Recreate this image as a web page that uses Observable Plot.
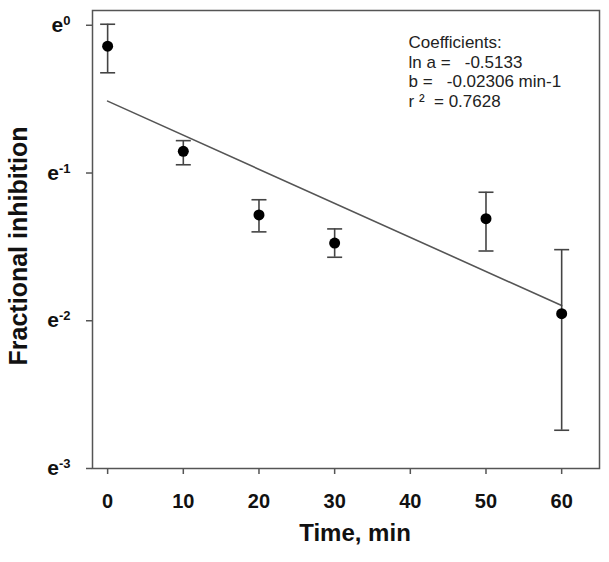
<!DOCTYPE html>
<html>
<head>
<meta charset="utf-8">
<script src="https://cdn.jsdelivr.net/npm/d3@7"></script>
<script src="https://cdn.jsdelivr.net/npm/@observablehq/plot@0.6"></script>
<style>
  html, body { margin: 0; padding: 0; background: #fff; }
  svg text { white-space: pre; }
</style>
</head>
<body>
<div id="chart"></div>
<script>
// Data
const times = [0, 10, 20, 30, 50, 60];
const meanValues = [0.868, 0.426, 0.277, 0.229, 0.270, 0.142];
const upperValues = [1.007, 0.458, 0.307, 0.252, 0.323, 0.219];
const lowerValues = [0.725, 0.389, 0.247, 0.208, 0.217, 0.0645];
const fitTimes = [0, 60];
const fitValues = [0.5985, 0.1500];
const xTicks = [0, 10, 20, 30, 40, 50, 60];
const yTickExponents = [-3, -2, -1, 0];
const coefficientLines = [
  "Coefficients:",
  "ln a =   -0.5133",
  "b =   -0.02306 min-1",
  "r \u00B2  = 0.7628"
];
const xLabel = "Time, min";
const yLabel = "Fractional inhibition";

const points = times.map((t, i) => ({t, m: meanValues[i], hi: upperValues[i], lo: lowerValues[i]}));
const fit = fitTimes.map((t, i) => ({t, v: fitValues[i]}));
const yTicks = yTickExponents.map(k => Math.exp(k));

const font = "Arial, 'Liberation Sans', Helvetica, sans-serif";

const capSymbol = {
  draw(context, size) {
    const w = Math.sqrt(size / Math.PI);
    context.moveTo(-w, 0);
    context.lineTo(w, 0);
  }
};

const chart = Plot.plot({
  width: 609,
  height: 562,
  marginLeft: 92,
  marginRight: 10,
  marginTop: 10,
  marginBottom: 94,
  style: {fontFamily: font, background: "#fff", color: "#111"},
  x: {domain: [-2, 65]},
  y: {type: "log", base: Math.E, domain: [Math.exp(-3), Math.exp(0.1)]},
  marks: [
    Plot.frame({stroke: "#555", strokeWidth: 1.5}),
    Plot.axisX({ticks: xTicks, tickSize: 6, tickPadding: 19, fontSize: 20, fontWeight: "bold",
      stroke: "#555", strokeWidth: 1.5, label: null, tickFormat: d => String(d)}),
    Plot.axisY({ticks: yTicks, tickSize: 6, tickPadding: 16, fontSize: 21, fontWeight: "bold",
      stroke: "#555", strokeWidth: 1.5, label: null,
      tickFormat: d => "e|" + Math.round(Math.log(d))}),
    Plot.line(fit, {x: "t", y: "v", stroke: "#555", strokeWidth: 1.6}),
    Plot.ruleX(points, {x: "t", y1: "lo", y2: "hi", stroke: "#444", strokeWidth: 1.6}),
    Plot.dot(points, {x: "t", y: "hi", symbol: capSymbol, r: 7.5, stroke: "#444", strokeWidth: 1.6, fill: "none"}),
    Plot.dot(points, {x: "t", y: "lo", symbol: capSymbol, r: 7.5, stroke: "#444", strokeWidth: 1.6, fill: "none"}),
    Plot.dot(points, {x: "t", y: "m", r: 5.5, fill: "#000", stroke: "none"}),
    Plot.text([coefficientLines.join("\n")], {frameAnchor: "top-left", dx: 316, dy: 24, textAnchor: "start",
      lineAnchor: "top", lineHeight: 1.15, fontSize: 17, fill: "#222"}),
    Plot.text([xLabel], {frameAnchor: "bottom", dx: 9, dy: 72, fontSize: 24, fontWeight: "bold", fill: "#111"}),
    Plot.text([yLabel], {frameAnchor: "left", rotate: -90, fontSize: 25, fontWeight: "bold", fill: "#111"})
  ]
});

// Render y tick labels as e with a superscript exponent
d3.select(chart).selectAll('g[aria-label="y-axis tick label"] text').each(function() {
  const el = d3.select(this);
  const s = el.text();
  const parts = s.split("|");
  if (parts.length !== 2) return;
  const exp = parts[1] === "0" ? "0" : "-" + parts[1].replace("-", "").replace("\u2212", "");
  el.text(null);
  el.append("tspan").text(parts[0]);
  el.append("tspan").attr("font-size", 13).attr("dy", "-0.55em").text(exp);
});

// Place the rotated y-axis title (baseline at x = 27, centred at y = 246)
d3.select(chart).selectAll("text").each(function() {
  if (this.textContent === yLabel) {
    const el = d3.select(this);
    if (this.parentNode && this.parentNode.getAttribute("transform")) this.parentNode.removeAttribute("transform");
    el.attr("transform", "translate(27,246) rotate(-90)")
      .attr("x", 0).attr("y", 0).attr("dy", null).attr("text-anchor", "middle");
  }
});

document.getElementById("chart").appendChild(chart);
</script>
</body>
</html>
